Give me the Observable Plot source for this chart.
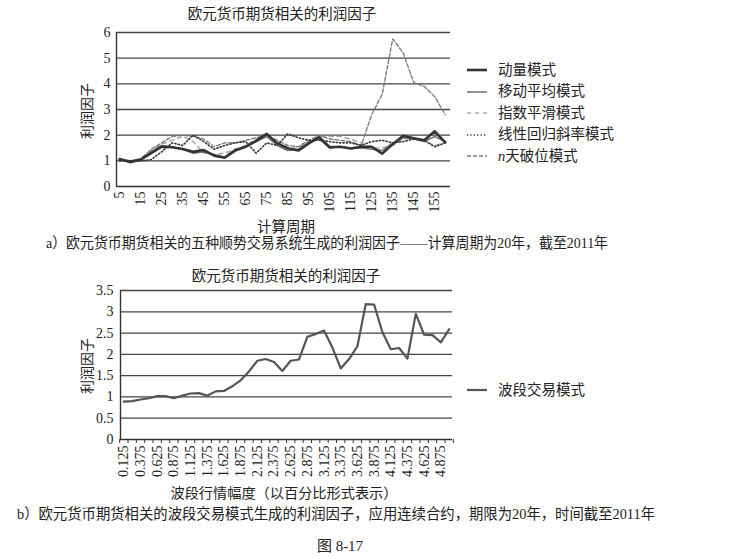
<!DOCTYPE html>
<html><head><meta charset="utf-8">
<script src="https://cdn.jsdelivr.net/npm/d3@7"></script>
<script src="https://cdn.jsdelivr.net/npm/@observablehq/plot@0.6"></script>
<style>
body{margin:0;background:#fff;}
#page{position:relative;width:756px;height:559px;overflow:hidden;font-family:"Liberation Serif","Noto Sans CJK SC",serif;color:#222;}
.t{position:absolute;white-space:nowrap;line-height:1;}
.box{position:absolute;}
.box svg{display:block;}
</style></head><body><div id="page"></div>
<script>
// ---------- Data: chart a ----------
const periods = [5,10,15,20,25,30,35,40,45,50,55,60,65,70,75,80,85,90,95,100,105,110,115,120,125,130,135,140,145,150,155,160];
const momentum  = [1.07,0.95,1.05,1.30,1.55,1.53,1.46,1.35,1.42,1.20,1.12,1.40,1.55,1.78,2.05,1.68,1.49,1.40,1.68,1.92,1.53,1.55,1.48,1.55,1.55,1.28,1.65,1.98,1.88,1.80,2.15,1.72];
const movingAvg = [1.05,1.00,1.05,1.35,1.60,1.55,1.45,1.30,1.35,1.25,1.15,1.45,1.55,1.75,1.95,1.60,1.40,1.45,1.70,1.85,1.50,1.55,1.50,1.50,1.45,1.40,1.70,1.90,1.85,1.75,1.95,1.75];
const expSmooth = [1.00,0.95,1.10,1.40,1.65,1.80,1.95,1.75,1.30,1.25,1.30,1.45,1.60,1.85,1.95,1.75,1.50,1.50,1.75,1.95,1.95,1.95,1.85,1.70,1.50,1.50,1.60,1.85,1.90,1.75,1.60,1.70];
const linReg    = [1.00,1.00,1.00,1.05,1.35,1.70,1.60,2.00,1.75,1.45,1.60,1.70,1.75,1.30,1.70,1.60,2.05,1.90,1.80,1.80,1.75,1.70,1.70,1.60,1.75,1.80,1.70,1.75,1.85,1.80,1.55,1.70];
const nDayBreak = [1.05,1.00,1.05,1.45,1.70,1.95,2.00,1.95,1.85,1.55,1.70,1.70,1.80,1.90,2.00,1.80,1.60,1.55,1.80,2.00,1.85,1.80,1.75,1.60,2.80,3.60,5.75,5.20,4.05,3.90,3.50,2.80];
const seriesNamesA = ["动量模式","移动平均模式","指数平滑模式","线性回归斜率模式","n天破位模式"];
const yTicksA = [0,1,2,3,4,5,6];
const xTicksA = periods.filter((d,i)=>i%2===0);

// ---------- Data: chart b ----------
const swingSizes = [0.125,0.25,0.375,0.5,0.625,0.75,0.875,1,1.125,1.25,1.375,1.5,1.625,1.75,1.875,2,2.125,2.25,2.375,2.5,2.625,2.75,2.875,3,3.125,3.25,3.375,3.5,3.625,3.75,3.875,4,4.125,4.25,4.375,4.5,4.625,4.75,4.875,5];
const swingProfit = [0.89,0.90,0.94,0.97,1.02,1.02,0.97,1.03,1.08,1.09,1.03,1.13,1.14,1.25,1.39,1.60,1.85,1.89,1.82,1.61,1.85,1.88,2.41,2.48,2.56,2.16,1.67,1.89,2.19,3.18,3.17,2.52,2.12,2.15,1.90,2.95,2.46,2.45,2.28,2.59];
const seriesNameB = "波段交易模式";
const yTicksB = [0,0.5,1,1.5,2,2.5,3,3.5];
const xTicksB = swingSizes.filter((d,i)=>i%2===0);

// ---------- Styles ----------
const FONT = '"Liberation Serif","Noto Sans CJK SC",serif';
const stylesA = [
  {stroke:"#333", strokeWidth:2.6},
  {stroke:"#777", strokeWidth:1.6},
  {stroke:"#aaa", strokeWidth:1.6, strokeDasharray:"4,4"},
  {stroke:"#333", strokeWidth:1.6, strokeDasharray:"1.2,2.2"},
  {stroke:"#777", strokeWidth:1.3, strokeDasharray:"4,2"}
];
const valuesA = [momentum, movingAvg, expSmooth, linReg, nDayBreak];
const drawOrder = [2,4,1,3,0];

const page = document.getElementById("page");
function addText(txt, left, top, size, extra) {
  const d = document.createElement("div");
  d.className = "t";
  d.textContent = txt;
  d.style.left = left + "px";
  d.style.top = top + "px";
  d.style.fontSize = size + "px";
  if (extra) Object.assign(d.style, extra);
  page.appendChild(d);
  return d;
}
function addCentered(txt, cx, cy, size, rot) {
  const d = addText(txt, cx, cy, size);
  d.style.transform = "translate(-50%,-50%)" + (rot ? " rotate(-90deg)" : "");
  return d;
}
function addFitted(txt, left, right, cy, size) {
  const d = addText(txt, left, cy - size / 2, size);
  const w = d.getBoundingClientRect().width;
  d.style.transformOrigin = "left center";
  d.style.transform = "scaleX(" + ((right - left) / w) + ")";
  return d;
}
function addBox(el, left, top) {
  const b = document.createElement("div");
  b.className = "box";
  b.style.left = left + "px";
  b.style.top = top + "px";
  b.appendChild(el);
  page.appendChild(b);
}
function swatch(st) {
  const ns = "http://www.w3.org/2000/svg";
  const s = document.createElementNS(ns, "svg");
  s.setAttribute("width", 22); s.setAttribute("height", 8);
  const l = document.createElementNS(ns, "line");
  l.setAttribute("x1", 1); l.setAttribute("x2", 21); l.setAttribute("y1", 4); l.setAttribute("y2", 4);
  l.setAttribute("stroke", st.stroke);
  l.setAttribute("stroke-width", st.strokeWidth);
  if (st.strokeDasharray) l.setAttribute("stroke-dasharray", st.strokeDasharray);
  s.appendChild(l);
  return s;
}

// ---------- Chart a ----------
const xDomA = [3.5, 162.5];
const plotA = Plot.plot({
  width: 460, height: 205,
  marginLeft: 116, marginRight: 10, marginTop: 12, marginBottom: 39,
  style: {fontFamily: FONT, fontSize: "14px", color: "#222", background: "transparent"},
  x: {type: "linear", domain: xDomA, ticks: xTicksA, tickFormat: d => String(d), tickRotate: -90, tickSize: 0, tickPadding: 5, label: null},
  y: {domain: [0, 6], ticks: yTicksA, tickFormat: d => String(d), tickSize: 0, tickPadding: 6, label: null},
  marks: [
    Plot.ruleY(yTicksA.filter(d => d > 0), {stroke: "#444", strokeWidth: 1.3}),
    Plot.ruleY([0], {stroke: "#333", strokeWidth: 1.4}),
    Plot.ruleX([xDomA[0]], {stroke: "#333", strokeWidth: 1.4}),
    ...drawOrder.map(k => Plot.line(valuesA[k], {x: periods, y: valuesA[k], ...stylesA[k]}))
  ]
});
addBox(plotA, 0, 20);
addCentered("欧元货币期货相关的利润因子", 282, 14, 14.5);
addCentered("利润因子", 88, 111, 14, true);
addCentered("计算周期", 286, 227, 14.5);
seriesNamesA.forEach((name, k) => {
  const y = 70 + k * 21.5;
  addBox(swatch(stylesA[k]), 466, y - 4);
  const t = addText("", 498, y - 7.5, 14.5);
  if (k === 4) {
    const it = document.createElement("i"); it.textContent = "n"; t.appendChild(it);
    t.appendChild(document.createTextNode(name.slice(1)));
  } else t.textContent = name;
});
addFitted("a）欧元货币期货相关的五种顺势交易系统生成的利润因子——计算周期为20年，截至2011年", 46, 608, 243, 15);

// ---------- Chart b ----------
const xDomB = [0.075, 5.05];
const stepB = swingSizes[1] - swingSizes[0];
const boundariesB = [...swingSizes.map(d => d - stepB / 2), swingSizes[swingSizes.length - 1] + stepB / 2];
const plotB = Plot.plot({
  width: 462, height: 205,
  marginLeft: 120, marginRight: 10, marginTop: 8, marginBottom: 48,
  style: {fontFamily: FONT, fontSize: "14px", color: "#222", background: "transparent"},
  x: {type: "linear", domain: xDomB, ticks: xTicksB, tickFormat: d3.format(".3f"), tickRotate: -90, tickSize: 0, tickPadding: 6, label: null},
  y: {domain: [0, 3.5], ticks: yTicksB, tickFormat: d => String(d), tickSize: 0, tickPadding: 7, label: null},
  marks: [
    Plot.ruleY(yTicksB.filter(d => d > 0), {stroke: "#444", strokeWidth: 1.3}),
    Plot.ruleY([0], {stroke: "#333", strokeWidth: 1.4}),
    Plot.ruleX([xDomB[0]], {stroke: "#333", strokeWidth: 1.4}),
    Plot.ruleX(boundariesB, {y1: 0, y2: 0, insetBottom: -4, stroke: "#333", strokeWidth: 1}),
    Plot.line(swingProfit, {x: swingSizes, y: swingProfit, stroke: "#555", strokeWidth: 2.2})
  ]
});
addBox(plotB, 0, 282);
addCentered("欧元货币期货相关的利润因子", 286, 276, 14.5);
addCentered("利润因子", 88, 366, 14, true);
addCentered("波段行情幅度（以百分比形式表示）", 284, 493, 14.2);
addBox(swatch({stroke: "#555", strokeWidth: 2.2}), 466, 386);
addText(seriesNameB, 498, 382.5, 14.5);
addFitted("b）欧元货币期货相关的波段交易模式生成的利润因子，应用连续合约，期限为20年，时间截至2011年", 17, 655, 514, 15);
addCentered("图  8-17", 340, 546, 15);
</script></body></html>
